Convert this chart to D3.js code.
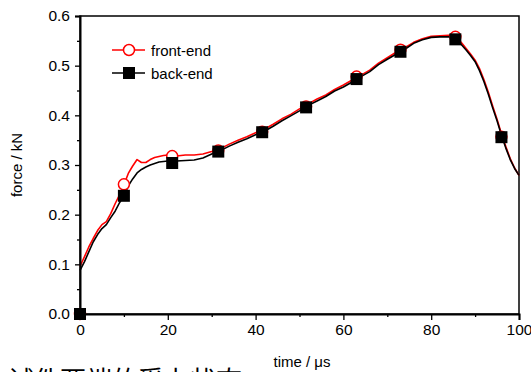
<!DOCTYPE html>
<html>
<head>
<meta charset="utf-8">
<script src="https://cdn.jsdelivr.net/npm/d3@7"></script>
<style>
  body { margin: 0; background: #fff; overflow: hidden; }
  svg { display: block; }
</style>
</head>
<body>
<div id="chart"></div>
<script>
/*
  force vs time, front-end / back-end
*/

var time = [0,1,2,3,4,5,6,7,8,9,10,11,12,13,14,15,16,17,18,19,20,22,24,26,28,30,32,34,36,38,40,42,44,46,48,50,52,54,56,58,60,62,64,66,68,70,72,74,76,78,80,82,84,85,86,87,88,89,90,91,92,93,94,95,96,97,98,99,100];

var frontEnd = [0.096,0.115,0.135,0.152,0.168,0.180,0.186,0.202,0.222,0.240,0.260,0.283,0.298,0.311,0.305,0.305,0.311,0.315,0.317,0.319,0.320,0.318,0.320,0.320,0.322,0.327,0.333,0.342,0.350,0.357,0.365,0.372,0.382,0.393,0.402,0.413,0.423,0.433,0.441,0.452,0.461,0.471,0.481,0.491,0.505,0.516,0.527,0.536,0.547,0.554,0.559,0.560,0.561,0.561,0.555,0.545,0.534,0.523,0.511,0.494,0.472,0.447,0.419,0.392,0.363,0.337,0.313,0.294,0.279];

var backEnd = [0.088,0.105,0.125,0.145,0.160,0.172,0.180,0.194,0.207,0.224,0.238,0.258,0.272,0.284,0.291,0.296,0.300,0.303,0.306,0.307,0.308,0.308,0.309,0.310,0.314,0.322,0.329,0.338,0.346,0.353,0.361,0.368,0.378,0.389,0.399,0.409,0.420,0.429,0.438,0.449,0.457,0.467,0.478,0.488,0.502,0.513,0.523,0.533,0.545,0.552,0.557,0.558,0.558,0.557,0.552,0.541,0.531,0.520,0.508,0.490,0.468,0.443,0.415,0.389,0.360,0.334,0.311,0.293,0.279];

// symbol positions
var markTime  = [0,10,21,31.5,41.5,51.5,63,73,85.5,96];
var markFront = [0,0.261,0.318,0.329,0.367,0.418,0.478,0.532,0.558,0.357];
var markBack  = [0,0.238,0.304,0.327,0.366,0.416,0.473,0.528,0.553,0.356];

var xTicks = [0,20,40,60,80,100],
    yTicks = [0.0,0.1,0.2,0.3,0.4,0.5,0.6],
    xMinor = [10,30,50,70,90],
    yMinor = [0.05,0.15,0.25,0.35,0.45,0.55];

var seriesNames = ["front-end","back-end"],
    seriesColors = ["#ff0000","#000000"];

var W = 531, H = 372,
    margin = {top: 16, right: 12, bottom: 58, left: 80},
    width = W - margin.left - margin.right,
    height = H - margin.top - margin.bottom,
    font = "'Liberation Sans', Arial, sans-serif";

var x = d3.scaleLinear().domain([0,100]).range([0, width]),
    y = d3.scaleLinear().domain([0,0.6]).range([height, 0]);

var svg = d3.select("#chart").append("svg")
    .attr("width", W)
    .attr("height", H);

var g = svg.append("g")
    .attr("transform", "translate(" + margin.left + "," + margin.top + ")");

// frame (top + right)
g.append("rect")
  .attr("x", 0).attr("y", 0)
  .attr("width", width).attr("height", height)
  .style("fill", "none")
  .style("stroke", "#000")
  .style("stroke-width", 1.5);

// lines
var line = d3.line()
  .x(function(d, i) { return x(time[i]); })
  .y(function(d) { return y(d); });

[frontEnd, backEnd].forEach(function(s, k){
  g.append("path")
    .datum(s)
    .attr("d", line)
    .style("fill", "none")
    .style("stroke", seriesColors[k])
    .style("stroke-width", 1.6)
    .style("stroke-linejoin", "round");
});

// markers
g.selectAll(".circ")
    .data(markFront)
  .enter().append("circle")
    .attr("class", "circ")
    .attr("cx", function(d, i) { return x(markTime[i]); })
    .attr("cy", function(d) { return y(d); })
    .attr("r", 5.5)
    .style("fill", "#fff")
    .style("stroke", "#ff0000")
    .style("stroke-width", 1.5);

g.selectAll(".sq")
    .data(markBack)
  .enter().append("rect")
    .attr("class", "sq")
    .attr("x", function(d, i) { return x(markTime[i]) - 6; })
    .attr("y", function(d) { return y(d) - 6; })
    .attr("width", 12)
    .attr("height", 12)
    .style("fill", "#000");

// axes
g.append("g")
  .attr("transform", "translate(0," + height + ")")
  .call(d3.axisBottom(x).tickValues(xTicks).tickSize(6).tickPadding(4).tickFormat(d3.format("d")));

g.append("g")
  .attr("transform", "translate(0," + height + ")")
  .call(d3.axisBottom(x).tickValues(xMinor).tickSize(3).tickFormat(""))
  .select(".domain").remove();

g.append("g")
  .call(d3.axisLeft(y).tickValues(yTicks).tickSize(5).tickPadding(5).tickFormat(d3.format(".1f")));

g.append("g")
  .call(d3.axisLeft(y).tickValues(yMinor).tickSize(3).tickFormat(""))
  .select(".domain").remove();

g.selectAll(".domain").style("stroke-width", 2);
g.selectAll(".tick line").style("stroke-width", 1.3);
g.selectAll(".tick text")
  .style("font-family", font)
  .style("font-size", "15.5px")
  .style("fill", "#000");

// axis titles
svg.append("text")
  .attr("transform", "translate(" + 22 + "," + (margin.top + height / 2) + ") rotate(-90)")
  .style("text-anchor", "middle")
  .style("font-family", font)
  .style("font-size", "15px")
  .text("force / kN");

svg.append("text")
  .attr("x", 302)
  .attr("y", 367)
  .style("text-anchor", "middle")
  .style("font-family", font)
  .style("font-size", "15px")
  .text("time / \u03bcs");

// legend
var legend = g.append("g").attr("transform", "translate(32,34)");
seriesNames.forEach(function(name, k){
  var row = legend.append("g").attr("transform", "translate(0," + (k * 23) + ")");
  row.append("line")
    .attr("x1", 0).attr("x2", 33)
    .style("stroke", seriesColors[k])
    .style("stroke-width", 1.6);
  if (k === 0) {
    row.append("circle").attr("cx", 17).attr("r", 5.5)
      .style("fill", "#fff").style("stroke", "#ff0000").style("stroke-width", 1.5);
  } else {
    row.append("rect").attr("x", 11).attr("y", -6).attr("width", 12).attr("height", 12)
      .style("fill", "#000");
  }
  row.append("text")
    .attr("x", 39).attr("y", 5.5)
    .style("font-family", font)
    .style("font-size", "15px")
    .text(name);
});

// cut-off caption below the chart
svg.append("text")
  .attr("x", 8)
  .attr("y", 390)
  .style("font-family", "'Noto Sans CJK SC', sans-serif")
  .style("font-size", "26px")
  .text("试件两端的受力状态");
</script>
</body>
</html>
